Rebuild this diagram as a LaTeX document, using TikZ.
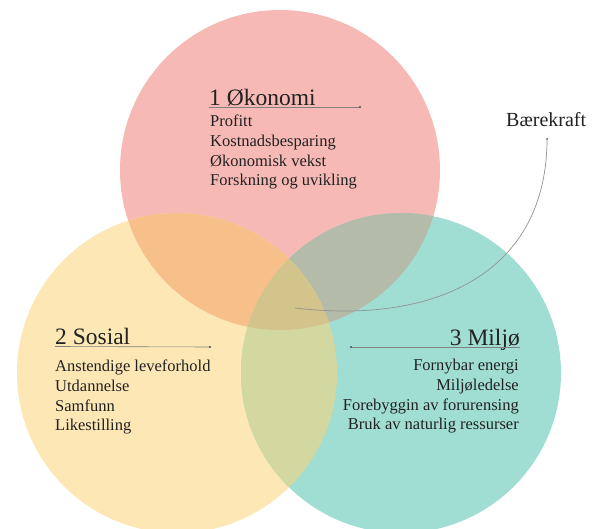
\documentclass[tikz,border=0pt]{standalone}
\usepackage{fontspec}
\setmainfont{Liberation Serif}
\definecolor{pinkc}{HTML}{F6B9B5}
\definecolor{yellowc}{HTML}{FDE8B5}
\definecolor{greenc}{HTML}{A0DED3}
\definecolor{pinkyellow}{HTML}{F7BF8A}
\definecolor{pinkgreen}{HTML}{B4BBA8}
\definecolor{yellowgreen}{HTML}{D3D8A1}
\definecolor{allthree}{HTML}{D2C48A}
\definecolor{inkc}{HTML}{222222}
\definecolor{rulec}{HTML}{808080}
\tikzset{
  heading/.style={inner sep=0pt, text=inkc, font=\fontsize{23.5}{26}\selectfont},
  item/.style={inner sep=0pt, text=inkc, font=\fontsize{16.5}{19}\selectfont},
  bigword/.style={inner sep=0pt, text=inkc, font=\fontsize{20}{22}\selectfont},
  underrule/.style={draw=rulec, line width=0.6pt},
  enddot/.style={fill=inkc!80},
  pointer/.style={draw=rulec!85, line width=0.7pt}
}
\newcommand{\ringA}{(280,170) circle[radius=160]}
\newcommand{\ringB}{(177,373) circle[radius=160]}
\newcommand{\ringC}{(401,373) circle[radius=160]}
\begin{document}
\begin{tikzpicture}[x=1pt,y=-1pt]
\useasboundingbox (0,0) rectangle (603,529);
\clip (0,0) rectangle (603,529);
\fill[white] (0,0) rectangle (603,529);

% the three discs
\fill[pinkc] \ringA;
\fill[yellowc] \ringB;
\fill[greenc] \ringC;
% pairwise overlaps
\begin{scope}\clip \ringA; \fill[pinkyellow] \ringB; \end{scope}
\begin{scope}\clip \ringA; \fill[pinkgreen] \ringC; \end{scope}
\begin{scope}\clip \ringB; \fill[yellowgreen] \ringC; \end{scope}
% common centre
\begin{scope}\clip \ringA; \clip \ringB; \fill[allthree] \ringC; \end{scope}

% 1 Økonomi
\node[heading, anchor=base west] (ecoT) at (209,106) {1 Økonomi};
\coordinate (ecoE) at (360,107);
\draw[underrule] (ecoT.base west) ++(0,1) -- (ecoE);
\fill[enddot] (ecoE) circle[radius=1.1];
\node[item, anchor=base west] (eco1) at (210,127) {Profitt};
\node[item, anchor=base west] (eco2) at (210,147) {Kostnadsbesparing};
\node[item, anchor=base west] (eco3) at (210,167) {Økonomisk vekst};
\node[item, anchor=base west] (eco4) at (210,186) {Forskning og uvikling};

% 2 Sosial
\node[heading, anchor=base west] (socT) at (55,345) {2 Sosial};
\coordinate (socE) at (210,347);
\draw[underrule] (socT.base west) ++(0,1.5) -- (socE);
\fill[enddot] (socE) circle[radius=1.1];
\node[item, anchor=base west] (soc1) at (55,372) {Anstendige leveforhold};
\node[item, anchor=base west] (soc2) at (55,392) {Utdannelse};
\node[item, anchor=base west] (soc3) at (55,412) {Samfunn};
\node[item, anchor=base west] (soc4) at (55,431) {Likestilling};

% 3 Miljø
\node[heading, anchor=base east] (envT) at (520,346) {3 Miljø};
\coordinate (envE) at (351,347);
\draw[underrule] (envE) -- ([yshift=-1pt]envT.base east);
\fill[enddot] (envE) circle[radius=1.1];
\node[item, anchor=base east] (env1) at (519,371) {Fornybar energi};
\node[item, anchor=base east] (env2) at (519,391) {Miljøledelse};
\node[item, anchor=base east] (env3) at (519,411) {Forebyggin av forurensing};
\node[item, anchor=base east] (env4) at (519,430) {Bruk av naturlig ressurser};

% Bærekraft with its pointer into the common centre
\node[bigword, anchor=base west] (sus) at (506,127) {Bærekraft};
\coordinate (susTop) at (547,139);
\coordinate (susEnd) at (295,308);
\fill[enddot] (susTop) circle[radius=1];
\draw[pointer] (susTop) .. controls (547,270) and (440,325) .. (susEnd);
\end{tikzpicture}
\end{document}
